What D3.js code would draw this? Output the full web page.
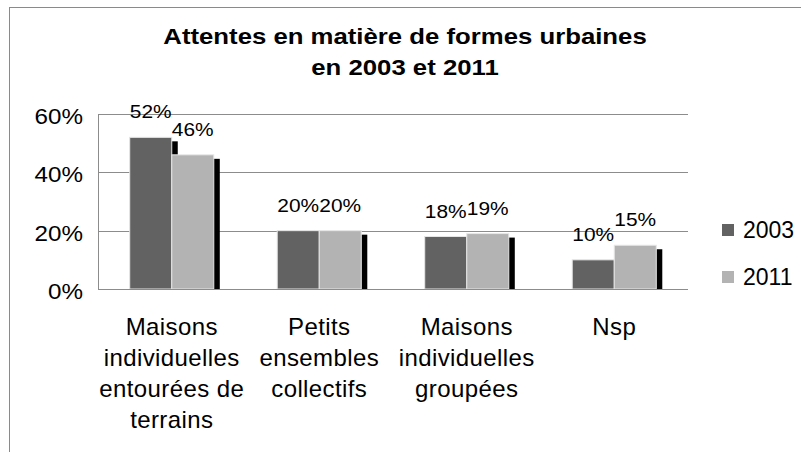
<!DOCTYPE html>
<html>
<head>
<meta charset="utf-8">
<script src="https://cdn.jsdelivr.net/npm/d3@7/dist/d3.min.js"></script>
<style>
  html, body { margin: 0; padding: 0; background: #fff; }
  svg { display: block; font-family: "Liberation Sans", Arial, sans-serif; }
</style>
</head>
<body>
<svg id="chart" width="801" height="452"></svg>
<script>
// Survey data: preferred urban forms, 2003 vs 2011
const categories = [
  ["Maisons", "individuelles", "entourées de", "terrains"],
  ["Petits", "ensembles", "collectifs"],
  ["Maisons", "individuelles", "groupées"],
  ["Nsp"]
];
const series = ["2003", "2011"];
const values2003 = [0.52, 0.20, 0.18, 0.10];
const values2011 = [0.46, 0.20, 0.19, 0.15];
const yTicks = [0, 0.2, 0.4, 0.6];
const titleLines = ["Attentes en matière de formes urbaines", "en 2003 et 2011"];

const colors = { "2003": "#626262", "2011": "#b3b3b3" };
const gridColor = "#8c8c8c";

const svg = d3.select("#chart");
const plot = { left: 98, right: 688, top: 114, bottom: 289 };

// Outer chart frame (runs off the right and bottom edges)
svg.append("rect")
  .attr("x", 9.5).attr("y", 7.5)
  .attr("width", 900).attr("height", 600)
  .attr("fill", "#fff").attr("stroke", "#8a8a8a").attr("stroke-width", 1);

const keys = categories.map(c => c.join(" "));
const x0 = d3.scaleBand().domain(keys)
  .range([plot.left, plot.right]).paddingInner(0.43).paddingOuter(0.215);
const x1 = d3.scaleBand().domain(series).range([0, x0.bandwidth()]);
const y = d3.scaleLinear().domain([0, 0.6]).range([plot.bottom, plot.top]);

// Horizontal gridlines
svg.append("g").selectAll("line").data(yTicks).join("line")
  .attr("x1", plot.left).attr("x2", plot.right)
  .attr("y1", d => Math.round(y(d)) + 0.5).attr("y2", d => Math.round(y(d)) + 0.5)
  .attr("stroke", gridColor).attr("stroke-width", 1);

// Vertical axis line
svg.append("line")
  .attr("x1", plot.left + 0.5).attr("x2", plot.left + 0.5)
  .attr("y1", y(0.6)).attr("y2", y(0) + 0.5)
  .attr("stroke", gridColor);

// Y tick labels
const fmt = d3.format(".0%");
svg.append("g").selectAll("text").data(yTicks).join("text")
  .attr("transform", d => `translate(83,${y(d) + 10}) scale(1.1,1)`)
  .attr("text-anchor", "end")
  .attr("font-size", 22).attr("fill", "#000")
  .text(d => fmt(d));

const rows = series.map(s => ({
  key: s,
  vals: s === "2003" ? values2003 : values2011
}));

const shadowDx = 6, shadowDy = 4;
const groups = svg.append("g").selectAll("g").data(keys).join("g")
  .attr("transform", d => `translate(${x0(d)},0)`);

// Bar shadows (behind bars)
groups.each(function (k, i) {
  const g = d3.select(this);
  rows.forEach(r => {
    const v = r.vals[i];
    g.append("rect")
      .attr("x", x1(r.key) + shadowDx)
      .attr("y", y(v) + shadowDy)
      .attr("width", x1.bandwidth())
      .attr("height", y(0) - y(v) - shadowDy)
      .attr("fill", "#000");
  });
});

// Bars
groups.each(function (k, i) {
  const g = d3.select(this);
  rows.forEach(r => {
    const v = r.vals[i];
    g.append("rect")
      .attr("x", x1(r.key))
      .attr("y", y(v))
      .attr("width", x1.bandwidth())
      .attr("height", y(0) - y(v))
      .attr("fill", colors[r.key])
      .attr("stroke", "#e6e6e6").attr("stroke-width", 1);
  });
});

// Value labels
groups.each(function (k, i) {
  const g = d3.select(this);
  rows.forEach(r => {
    const v = r.vals[i];
    g.append("text")
      .attr("transform", `translate(${x1(r.key) + x1.bandwidth() / 2},${y(v) - 19}) scale(1.1,1)`)
      .attr("text-anchor", "middle")
      .attr("font-size", 19).attr("fill", "#000")
      .text(fmt(v));
  });
});

// Redraw baseline over the shadows
svg.append("line")
  .attr("x1", plot.left).attr("x2", plot.right)
  .attr("y1", Math.round(y(0)) + 0.5).attr("y2", Math.round(y(0)) + 0.5)
  .attr("stroke", gridColor);

// Category labels
categories.forEach((lines, i) => {
  const cx = x0(keys[i]) + x0.bandwidth() / 2;
  svg.append("g").selectAll("text").data(lines).join("text")
    .attr("x", cx).attr("y", (d, j) => 335 + j * 31)
    .attr("text-anchor", "middle")
    .attr("font-size", 24).attr("letter-spacing", 0.4).attr("fill", "#000")
    .text(d => d);
});

// Title
svg.append("g").selectAll("text").data(titleLines).join("text")
  .attr("transform", (d, j) => `translate(405,${44 + j * 31}) scale(1.17,1)`)
  .attr("text-anchor", "middle")
  .attr("font-size", 22).attr("font-weight", "bold").attr("fill", "#000")
  .text(d => d);

// Legend
const legend = svg.append("g").selectAll("g").data(series).join("g")
  .attr("transform", (d, j) => `translate(722,${224 + j * 47})`);
legend.append("rect")
  .attr("width", 12).attr("height", 12)
  .attr("fill", d => colors[d]);
legend.append("text")
  .attr("x", 21).attr("y", 14)
  .attr("font-size", 23).attr("fill", "#000")
  .text(d => d);
</script>
</body>
</html>
